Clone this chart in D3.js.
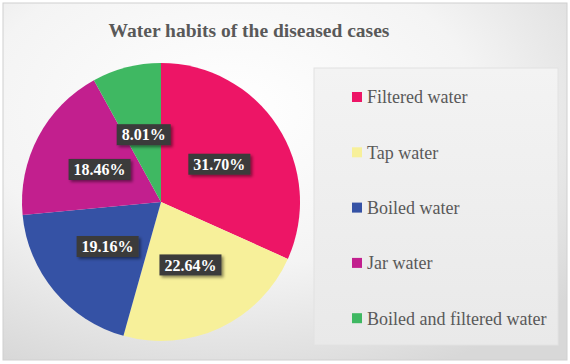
<!DOCTYPE html>
<html>
<head>
<meta charset="utf-8">
<script src="https://cdn.jsdelivr.net/npm/d3@7"></script>
<style>
  body { margin: 0; background: #fff; }
  svg { display: block; }
</style>
</head>
<body>
<svg id="chart" width="570" height="364"></svg>
<script>
// data
var categories = ["Filtered water", "Tap water", "Boiled water", "Jar water", "Boiled and filtered water"];
var values = [31.70, 22.64, 19.16, 18.46, 8.01];
var colors = ["#ed1566", "#f7f09a", "#3552a5", "#c21f8e", "#3fb862"];

var width = 570, height = 364;
var serif = "'Liberation Serif', 'Times New Roman', serif";
var svg = d3.select("#chart");
var defs = svg.append("defs");

// background gradient
var bg = defs.append("radialGradient").attr("id", "bg")
  .attr("cx", "0.4").attr("cy", "0.3").attr("r", "0.8");
bg.append("stop").attr("offset", "0").attr("stop-color", "#ffffff");
bg.append("stop").attr("offset", "0.55").attr("stop-color", "#f4f4f4");
bg.append("stop").attr("offset", "1").attr("stop-color", "#d8d8d8");

var lg = defs.append("linearGradient").attr("id", "lg")
  .attr("x1", "0").attr("y1", "0").attr("x2", "0").attr("y2", "1");
lg.append("stop").attr("offset", "0").attr("stop-color", "#f3f3f3");
lg.append("stop").attr("offset", "1").attr("stop-color", "#e9e9e9");

var sh = defs.append("filter").attr("id", "sh")
  .attr("x", "-20%").attr("y", "-20%").attr("width", "150%").attr("height", "160%");
sh.append("feDropShadow").attr("dx", 2).attr("dy", 2).attr("stdDeviation", 1.5)
  .attr("flood-color", "#000").attr("flood-opacity", 0.45);

svg.append("rect").attr("x", 3).attr("y", 3).attr("width", 564).attr("height", 357)
  .attr("fill", "url(#bg)").attr("stroke", "#d0d0d0").attr("stroke-width", 1);

// title
svg.append("text")
  .attr("x", 249).attr("y", 36.5)
  .attr("text-anchor", "middle")
  .style("font-family", serif)
  .attr("font-weight", "bold")
  .attr("font-size", 19.5)
  .attr("fill", "#595959")
  .text("Water habits of the diseased cases");

// pie
var cx = 161, cy = 202, r = 139;
var pie = d3.pie().sort(null).value(function (d) { return d; });
var arc = d3.arc().innerRadius(0).outerRadius(r);
var arcs = pie(values);

var g = svg.append("g").attr("transform", "translate(" + cx + "," + cy + ")");
g.selectAll("path.slice")
  .data(arcs)
  .enter()
  .append("path")
  .attr("class", "slice")
  .attr("d", arc)
  .attr("fill", function (d, i) { return colors[i]; });

// labels
var lab = g.selectAll("g.lab")
  .data(arcs)
  .enter()
  .append("g")
  .attr("class", "lab")
  .attr("transform", function (d) {
    var c = arc.centroid(d);
    return "translate(" + c[0] + "," + c[1] + ")";
  });

lab.each(function (d) {
  var el = d3.select(this);
  var t = el.append("text")
    .attr("text-anchor", "middle")
    .attr("dy", "0.35em")
    .style("font-family", serif)
    .attr("font-weight", "bold")
    .attr("font-size", 16)
    .attr("fill", "#ffffff")
    .text(d.data.toFixed(2) + "%");
  var bb = t.node().getBBox();
  el.insert("rect", "text")
    .attr("x", bb.x - 5).attr("y", -10.5)
    .attr("width", bb.width + 10).attr("height", 21)
    .attr("fill", "#3a3a3a")
    .attr("filter", "url(#sh)");
});

// legend box
svg.append("rect").attr("x", 314).attr("y", 68).attr("width", 244).attr("height", 277)
  .attr("fill", "url(#lg)").attr("stroke", "#e2e2e2");

var leg = svg.selectAll("g.leg")
  .data(categories)
  .enter()
  .append("g")
  .attr("class", "leg")
  .attr("transform", function (d, i) { return "translate(352," + (97 + i * 55.3) + ")"; });

leg.append("rect")
  .attr("x", 0).attr("y", -5).attr("width", 10).attr("height", 10)
  .attr("fill", function (d, i) { return colors[i]; });

leg.append("text")
  .attr("x", 15).attr("dy", "0.35em")
  .style("font-family", serif)
  .attr("font-size", 18)
  .attr("fill", "#595959")
  .text(function (d) { return d; });
</script>
</body>
</html>
